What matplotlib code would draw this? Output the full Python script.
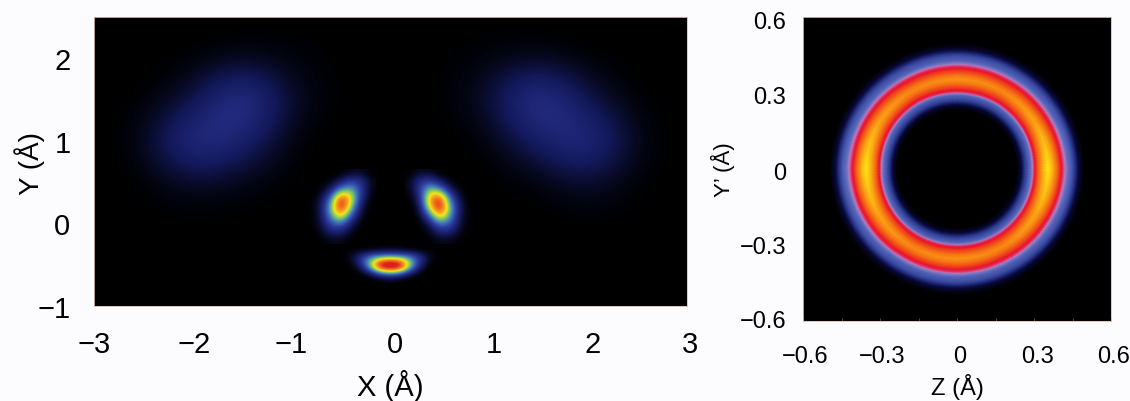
#!/usr/bin/env python3
# -*- coding: utf-8 -*-
"""Mapas de densidad: plano X-Y (izquierda) y plano Z-Y' (derecha)."""
import numpy as np
import matplotlib
matplotlib.use("Agg")
import matplotlib.pyplot as plt
from matplotlib.colors import LinearSegmentedColormap
from matplotlib.transforms import ScaledTranslation

plt.rcParams["font.family"] = ["Liberation Sans", "DejaVu Sans"]

# panel izquierdo: lobulos anchos, filas de y=2.5 a y=-1, columnas x=-3..3
wide_x = [-3, -2.5, -2, -1.5, -1, -0.5, 0, 0.5, 1, 1.5, 2, 2.5, 3]
wide_y = [2.5, 2, 1.5, 1, 0.5, 0, -0.5, -1]
wide_vals = [
    [0, 0, 0, 0, 0, 0, 0, 0, 0, 0, 0, 0, 0],
    [0, 0, 0, 1, 1, 0, 0, 0, 1, 1, 0, 0, 0],
    [0, 0, 4, 23, 3, 0, 0, 0, 4, 23, 5, 0, 0],
    [0, 1, 20, 12, 0, 0, 0, 0, 0, 10, 19, 1, 0],
    [0, 0, 3, 1, 0, 0, 0, 0, 0, 0, 4, 0, 0],
    [0, 0, 0, 0, 0, 0, 0, 0, 0, 0, 0, 0, 0],
    [0, 0, 0, 0, 0, 0, 0, 0, 0, 0, 0, 0, 0],
    [0, 0, 0, 0, 0, 0, 0, 0, 0, 0, 0, 0, 0],
]

# lobulos pequenos
lobe_left_x = [-0.8, -0.7, -0.6, -0.5, -0.4, -0.3, -0.2]
lobe_left_y = [0.6, 0.5, 0.4, 0.3, 0.2, 0.1, 0.0, -0.1, -0.2]
lobe_left_vals = [
    [0, 0, 0, 0, 2, 3, 0],
    [0, 0, 1, 8, 20, 16, 2],
    [0, 1, 8, 36, 46, 18, 1],
    [0, 3, 28, 92, 62, 12, 0],
    [0, 6, 42, 100, 50, 5, 0],
    [0, 5, 38, 72, 26, 2, 0],
    [0, 4, 24, 32, 8, 0, 0],
    [0, 2, 11, 11, 2, 0, 0],
    [0, 0, 2, 2, 0, 0, 0],
]
lobe_right_x = [0.2, 0.3, 0.4, 0.5, 0.6, 0.7, 0.8]
lobe_right_y = [0.6, 0.5, 0.4, 0.3, 0.2, 0.1, 0.0, -0.1, -0.2]
lobe_right_vals = [
    [0, 3, 2, 0, 0, 0, 0],
    [2, 16, 20, 8, 1, 0, 0],
    [1, 18, 50, 38, 8, 1, 0],
    [0, 10, 72, 90, 28, 3, 0],
    [0, 4, 64, 100, 42, 6, 0],
    [0, 1, 30, 76, 40, 5, 0],
    [0, 0, 8, 34, 26, 4, 0],
    [0, 0, 2, 12, 12, 2, 0],
    [0, 0, 0, 2, 2, 0, 0],
]
lobe_low_x = [-0.4, -0.3, -0.2, -0.1, 0, 0.1, 0.2, 0.3, 0.4]
lobe_low_y = [-0.3, -0.35, -0.4, -0.45, -0.5, -0.55, -0.6, -0.65, -0.7]
lobe_low_vals = [
    [0, 0, 0, 1, 1, 1, 0, 0, 0],
    [1, 3, 6, 8, 9, 8, 6, 3, 1],
    [1, 11, 24, 30, 32, 30, 24, 11, 1],
    [1, 16, 40, 66, 76, 66, 40, 16, 1],
    [0, 11, 46, 94, 100, 94, 46, 11, 0],
    [0, 5, 34, 82, 92, 82, 34, 5, 0],
    [0, 1, 12, 38, 48, 38, 12, 1, 0],
    [0, 0, 2, 9, 14, 9, 2, 0, 0],
    [0, 0, 0, 1, 2, 1, 0, 0, 0],
]

# panel derecho: perfil radial del anillo y variacion con el angulo
ring_r = [0.0, 0.23, 0.25, 0.265, 0.28, 0.29, 0.30, 0.305, 0.32, 0.34, 0.355, 0.37,
          0.39, 0.405, 0.415, 0.43, 0.445, 0.46, 0.475, 0.49, 0.5, 0.9]
ring_profile = [0, 0, 0.05, 0.14, 0.25, 0.31, 0.42, 0.54, 0.74, 0.92, 1.0, 0.92,
                0.74, 0.56, 0.42, 0.31, 0.25, 0.14, 0.06, 0.02, 0, 0]
ring_angle = [0, 30, 60, 90, 120, 150, 180, 210, 240, 270, 300, 330, 360]
ring_gain = [1.0, 0.87, 0.8, 0.82, 0.8, 0.87, 1.0, 0.87, 0.8, 0.82, 0.8, 0.87, 1.0]

xticks_l = [-3, -2, -1, 0, 1, 2, 3]
yticks_l = [-1, 0, 1, 2]
ticks_r = [-0.6, -0.3, 0, 0.3, 0.6]
minor_r = [-0.45, -0.15, 0.15, 0.45]

cmap_l = LinearSegmentedColormap.from_list("izq", [
    (0.0, "#000000"), (0.08, "#14195c"), (0.2, "#2d3a9c"), (0.32, "#3f78bc"),
    (0.45, "#7cc46a"), (0.58, "#f2e61a"), (0.72, "#f58c1e"), (0.9, "#dd1f1e"), (1.0, "#dd1f1e")])
cmap_r = LinearSegmentedColormap.from_list("der", [
    (0.0, "#000000"), (0.06, "#0a0a40"), (0.14, "#2c3a90"), (0.27, "#5568bc"),
    (0.36, "#b080c0"), (0.43, "#e83268"), (0.52, "#e8142c"), (0.72, "#f56a14"),
    (0.86, "#fba514"), (1.0, "#ffe514")])


def draw_grid(ax, xs, ys, vals):
    dx = (xs[1] - xs[0]) / 2
    dy = abs(ys[1] - ys[0]) / 2
    ax.imshow(np.array(vals) / 100.0, cmap=cmap_l, vmin=0, vmax=1, interpolation="bicubic",
              extent=[xs[0] - dx, xs[-1] + dx, ys[-1] - dy, ys[0] + dy], aspect="auto")


def nudge(labels, dxs, dys):
    # los rotulos del original no caen justo sobre su marca
    for lab, dx, dy in zip(labels, dxs, dys):
        lab.set_transform(lab.get_transform() + ScaledTranslation(dx / 100, dy / 100, fig.dpi_scale_trans))


fig = plt.figure(figsize=(11.3, 4.02), dpi=100, facecolor="#fcfcfe")

ax1 = fig.add_axes([94 / 1130, 1 - 307 / 402, 593 / 1130, 289 / 402], facecolor="black")
draw_grid(ax1, wide_x, wide_y, wide_vals)
draw_grid(ax1, lobe_left_x, lobe_left_y, lobe_left_vals)
draw_grid(ax1, lobe_right_x, lobe_right_y, lobe_right_vals)
draw_grid(ax1, lobe_low_x, lobe_low_y, lobe_low_vals)
ax1.set_xlim(-3, 3)
ax1.set_ylim(-1, 2.5)
ax1.set_xticks(xticks_l, [str(t).replace("-", "\u2212") for t in xticks_l])
ax1.set_yticks(yticks_l, [str(t).replace("-", "\u2212") for t in yticks_l])
ax1.tick_params(length=0, labelsize=21)
ax1.tick_params(axis="x", pad=17)
ax1.tick_params(axis="y", pad=17)
ax1.set_xlabel("X (\u00c5)", fontsize=21)
ax1.set_ylabel("Y (\u00c5)", fontsize=20)
ax1.xaxis.set_label_coords(0.5, -0.218)
ax1.yaxis.set_label_coords(-0.083, 0.498)
nudge(ax1.get_xticklabels(), [0, 1, -1, 4, 4, 4, 3], [0] * 7)

ax2 = fig.add_axes([803 / 1130, 1 - 322 / 402, 308 / 1130, 304 / 402], facecolor="black")
th_deg = np.arange(0, 361, 2)
rad = np.linspace(0.0, 0.9, 361)
prof = np.interp(rad, ring_r, ring_profile)
gain = np.interp(th_deg, ring_angle, ring_gain)
rr = np.outer(np.ones_like(th_deg), rad)
zz = np.outer(gain, prof)
ax2.pcolormesh(rr * np.cos(np.radians(th_deg))[:, None], rr * np.sin(np.radians(th_deg))[:, None],
               zz, cmap=cmap_r, vmin=0, vmax=1, shading="gouraud")
ax2.set_xlim(-0.6, 0.6)
ax2.set_ylim(-0.6, 0.6)
labels_r = ["0" if t == 0 else f"{t:.1f}".replace("-", "\u2212") for t in ticks_r]
ax2.set_xticks(ticks_r, labels_r)
ax2.set_yticks(ticks_r, labels_r)
ax2.set_xticks(minor_r, minor=True)
ax2.tick_params(axis="x", which="both", direction="in", length=2, width=0.5, color="#666666")
ax2.tick_params(axis="y", length=0)
ax2.tick_params(labelsize=17)
ax2.tick_params(axis="x", pad=17)
ax2.tick_params(axis="y", pad=12)
ax2.set_xlabel("Z (\u00c5)", fontsize=17)
ax2.set_ylabel("Y\u2019 (\u00c5)", fontsize=16)
ax2.xaxis.set_label_coords(0.5, -0.171)
ax2.yaxis.set_label_coords(-0.221, 0.5)
nudge(ax2.get_xticklabels(), [2, 2, 3, 3, 3], [0] * 5)
nudge(ax2.get_yticklabels(), [0] * 5, [3, 1, -1, -1, -2])

for ax in (ax1, ax2):
    for s in ax.spines.values():
        s.set_color("#d9bcae")
        s.set_linewidth(0.6)

fig.savefig("out.png", dpi=100, facecolor=fig.get_facecolor())
